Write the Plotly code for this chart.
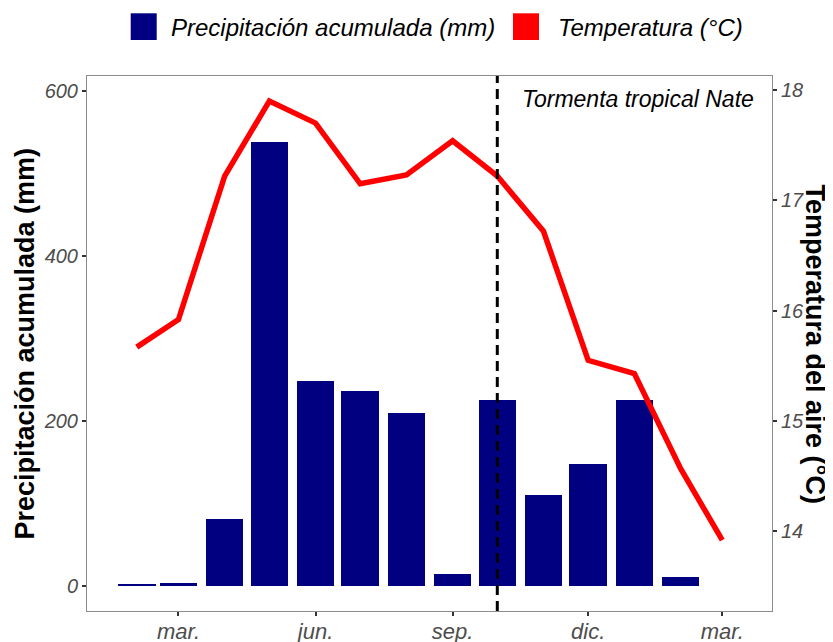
import plotly.graph_objects as go

# ---------------- data ----------------
bar_months = ["2017-02-01", "2017-03-01", "2017-04-01", "2017-05-01", "2017-06-01",
              "2017-07-01", "2017-08-01", "2017-09-01", "2017-10-01", "2017-11-01",
              "2017-12-01", "2018-01-01", "2018-02-01"]
precip_mm = [3, 4, 81, 538, 248, 236, 210, 15, 226, 110, 148, 226, 11]

temp_months = ["2017-02-01", "2017-03-01", "2017-04-01", "2017-05-01", "2017-06-01",
               "2017-07-01", "2017-08-01", "2017-09-01", "2017-10-01", "2017-11-01",
               "2017-12-01", "2018-01-01", "2018-02-01", "2018-03-01"]
temp_c = [15.67, 15.92, 17.22, 17.90, 17.70, 17.15, 17.23, 17.54, 17.22, 16.72,
          15.55, 15.43, 14.57, 13.92]

event_date = "2017-10-01"
event_label = "Tormenta tropical Nate"

x_tick_dates = ["2017-03-01", "2017-06-01", "2017-09-01", "2017-12-01", "2018-03-01"]
x_tick_labels = ["mar.", "jun.", "sep.", "dic.", "mar."]
y_ticks = [0, 200, 400, 600]
y2_ticks = [14, 15, 16, 17, 18]

legend_labels = ["Precipitación acumulada (mm)", "Temperatura (°C)"]
y_title = "Precipitación acumulada (mm)"
y2_title = "Temperatura del aire (°C)"

# ---------------- style / layout ----------------
PAGE_OFF = 8                      # browser body margin
W, H = 833 - PAGE_OFF, 642 - PAGE_OFF
ML, MR, MT, MB = 79, 61, 68, 31
PW, PH = W - ML - MR, H - MT - MB

def px_x(p):
    """page pixel x -> paper coordinate"""
    return (p - PAGE_OFF - ML) / PW

def px_y(p):
    """page pixel y -> paper coordinate"""
    return (H - MB - (p - PAGE_OFF)) / PH

FONT = "Liberation Sans, Arial, sans-serif"
NAVY = "#000080"
RED = "#FF0000"
TICK_GREY = "#4d4d4d"
BORDER = "#8c8c8c"
DAY_MS = 86400000

fig = go.Figure()
fig.add_trace(go.Bar(
    x=bar_months, y=precip_mm, width=25.2 * DAY_MS,
    marker=dict(color=NAVY, line=dict(width=0)),
    name=legend_labels[0], yaxis="y", showlegend=False,
))
fig.add_trace(go.Scatter(
    x=temp_months, y=temp_c, mode="lines",
    line=dict(color=RED, width=5.5),
    name=legend_labels[1], yaxis="y2", showlegend=False,
))

fig.add_shape(type="line", xref="x", yref="paper", x0=event_date, x1=event_date,
              y0=0, y1=1, line=dict(color="black", width=3, dash="10px,6px"),
              layer="above")

annotations = [
    dict(text=event_label, xref="paper", yref="paper", x=px_x(756), y=px_y(99),
         xanchor="right", yanchor="middle", showarrow=False,
         font=dict(family=FONT, size=23, color="black", style="italic")),
    dict(text="<b>" + y_title + "</b>", xref="paper", yref="paper", x=px_x(24), y=0.5,
         xanchor="center", yanchor="middle", textangle=-90, showarrow=False,
         font=dict(family=FONT, size=27, color="black")),
    dict(text="<b>" + y2_title + "</b>", xref="paper", yref="paper", x=px_x(815), y=0.5,
         xanchor="center", yanchor="middle", textangle=90, showarrow=False,
         font=dict(family=FONT, size=27, color="black")),
    dict(text=legend_labels[0], xref="paper", yref="paper", x=px_x(169), y=px_y(27.5),
         xanchor="left", yanchor="middle", showarrow=False,
         font=dict(family=FONT, size=24, color="black", style="italic")),
    dict(text=legend_labels[1], xref="paper", yref="paper", x=px_x(556), y=px_y(27.5),
         xanchor="left", yanchor="middle", showarrow=False,
         font=dict(family=FONT, size=24, color="black", style="italic")),
]

shapes_legend = [
    dict(type="rect", xref="paper", yref="paper", x0=px_x(130.7), x1=px_x(156.7),
         y0=px_y(40), y1=px_y(13.3), fillcolor=NAVY, line=dict(width=0)),
    dict(type="rect", xref="paper", yref="paper", x0=px_x(513), x1=px_x(539),
         y0=px_y(40), y1=px_y(13.3), fillcolor=RED, line=dict(width=0)),
]
for s in shapes_legend:
    fig.add_shape(**s)

tickfont = dict(family=FONT, size=20, color=TICK_GREY, style="italic")

fig.update_layout(
    width=W, height=H,
    margin=dict(l=ML, r=MR, t=MT, b=MB, autoexpand=False),
    paper_bgcolor="white", plot_bgcolor="white",
    showlegend=False,
    bargap=0,
    annotations=annotations,
    xaxis=dict(
        type="date",
        range=["2016-12-29 14:24", "2018-04-03 09:20"],
        tickvals=x_tick_dates, ticktext=x_tick_labels,
        ticks="outside", ticklen=4, tickwidth=1.5, tickcolor="#333333",
        ticklabelstandoff=-3,
        tickfont=dict(family=FONT, size=22, color=TICK_GREY, style="italic"),
        showline=True, linecolor=BORDER, linewidth=1, mirror=True,
        showgrid=False, zeroline=False,
    ),
    yaxis=dict(
        range=[-29.9, 617.6],
        tickvals=y_ticks,
        ticks="outside", ticklen=4, tickwidth=1.5, tickcolor="#333333",
        tickfont=tickfont,
        showline=True, linecolor=BORDER, linewidth=1, mirror=True,
        showgrid=False, zeroline=False,
    ),
    yaxis2=dict(
        range=[13.278, 18.127],
        overlaying="y", side="right", anchor="x",
        tickvals=y2_ticks,
        ticks="outside", ticklen=4, tickwidth=1.5, tickcolor="#333333",
        tickfont=tickfont,
        showline=False, showgrid=False, zeroline=False,
    ),
)

fig.write_html("out.html")
